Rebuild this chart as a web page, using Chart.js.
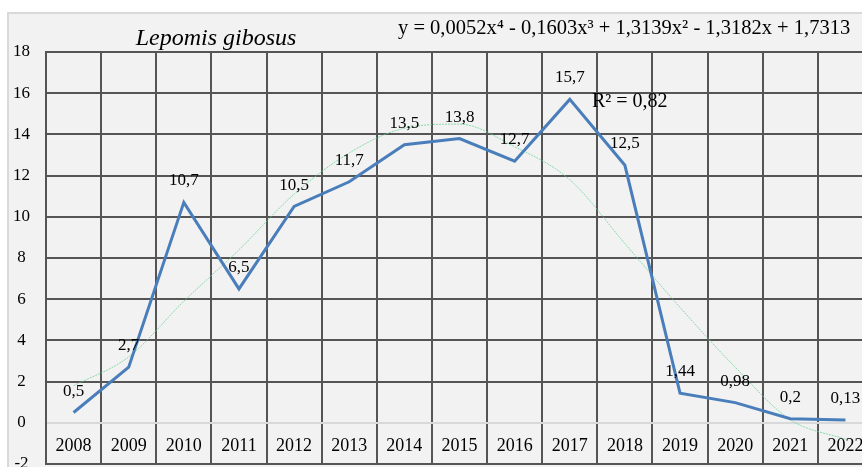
<!DOCTYPE html>
<html>
<head>
<meta charset="utf-8">
<script src="https://cdn.jsdelivr.net/npm/chart.js@4"></script>
<style>
  html, body { margin: 0; padding: 0; background: #fff; overflow: hidden; }
  #chart { display: block; }
</style>
</head>
<body>
<canvas id="chart" width="880" height="480"></canvas>
<script>
"use strict";
const years = ['2008', '2009', '2010', '2011', '2012', '2013', '2014', '2015',
               '2016', '2017', '2018', '2019', '2020', '2021', '2022'];
const counts = [0.5, 2.7, 10.7, 6.5, 10.5, 11.7, 13.5, 13.8, 12.7, 15.7, 12.5, 1.44, 0.98, 0.2, 0.13];
// trend curve
const trend = [1.8, 3.2, 5.9, 8.4, 11.1, 13.1, 14.3, 14.5, 13.4, 11.8, 8.7, 5.6, 2.7, 0.15, -0.8];
const yTicks = [-2, 0, 2, 4, 6, 8, 10, 12, 14, 16, 18];
const titleText = 'Lepomis gibosus';
const equationText = 'y = 0,0052x\u2074 - 0,1603x\u00b3 + 1,3139x\u00b2 - 1,3182x + 1,7313';
const r2Text = 'R\u00b2 = 0,82';

const serif = '"Liberation Serif", "Times New Roman", serif';
const fmt = v => String(v).replace('.', ',');

const panel = {
    id: 'panel',
    beforeDraw(chart) {
        const c = chart.ctx;
        c.save();
        c.fillStyle = '#f2f2f2';
        c.fillRect(9, 14, chart.width, chart.height);
        c.fillStyle = '#d9d9d9';
        c.fillRect(7, 12, chart.width, 2);
        c.fillRect(7, 12, 2, chart.height);
        c.restore();
    }
};

const texts = {
    id: 'texts',
    afterDatasetsDraw(chart) {
        const c = chart.ctx;
        const x = chart.scales.x, y = chart.scales.y;
        c.save();
        c.fillStyle = '#000';
        c.textAlign = 'center';
        c.textBaseline = 'alphabetic';

        // category labels sit inside the plot between 0 and -2
        c.font = '18px ' + serif;
        years.forEach((yr, i) => {
            c.fillText(yr, x.getPixelForValue(i), y.getPixelForValue(-1) + 7.5);
        });

        // value labels above the points
        c.font = '17px ' + serif;
        chart.getDatasetMeta(0).data.forEach((pt, i) => {
            c.fillText(fmt(counts[i]), pt.x, pt.y - 17);
        });

        c.font = 'italic 24px ' + serif;
        c.fillText(titleText, 216, 45);

        c.textAlign = 'left';
        c.font = '20.5px ' + serif;
        c.fillText(equationText, 398, 34);
        c.font = '20px ' + serif;
        c.fillText(r2Text, 592, 107);
        c.restore();
    }
};

const ctx = document.getElementById('chart').getContext('2d');

new Chart(ctx, {
    type: 'line',
    data: {
        labels: years,
        datasets: [
            {
                label: 'Lepomis gibosus',
                data: counts,
                borderColor: '#4a7ebb',
                borderWidth: 3,
                pointRadius: 0,
                tension: 0,
                order: 0
            },
            {
                label: 'trend',
                data: trend,
                borderColor: 'rgba(100, 210, 145, 0.75)',
                borderWidth: 1,
                borderDash: [2, 1],
                pointRadius: 0,
                cubicInterpolationMode: 'monotone',
                order: 1
            }
        ]
    },
    options: {
        responsive: false,
        animation: false,
        layout: {
            padding: { top: 52, left: 0, right: 7, bottom: 16 }
        },
        plugins: {
            legend: { display: false },
            title: { display: false },
            tooltip: { enabled: false }
        },
        scales: {
            x: {
                offset: true,
                afterFit: scale => {
                    scale.height = 0;
                },
                grid: {
                    offset: true,
                    color: '#555555',
                    lineWidth: 2,
                    drawTicks: false
                },
                border: { color: '#555555', width: 2 },
                ticks: { display: false }
            },
            y: {
                min: -2,
                max: 18,
                afterBuildTicks: scale => {
                    scale.ticks = yTicks.map(v => ({ value: v }));
                },
                afterFit: scale => {
                    scale.width = 46;
                    // let the outer padding alone decide the plot height
                    scale.paddingTop = 0;
                    scale.paddingBottom = 0;
                },
                grid: {
                    color: c => (c.tick && c.tick.value === 0 ? '#d9d9d9' : '#555555'),
                    lineWidth: 2,
                    drawTicks: false
                },
                border: { color: '#555555', width: 2 },
                ticks: {
                    color: '#000',
                    crossAlign: 'center',
                    padding: 16,
                    font: { family: serif, size: 17 }
                }
            }
        }
    },
    plugins: [panel, texts]
});
</script>
</body>
</html>
